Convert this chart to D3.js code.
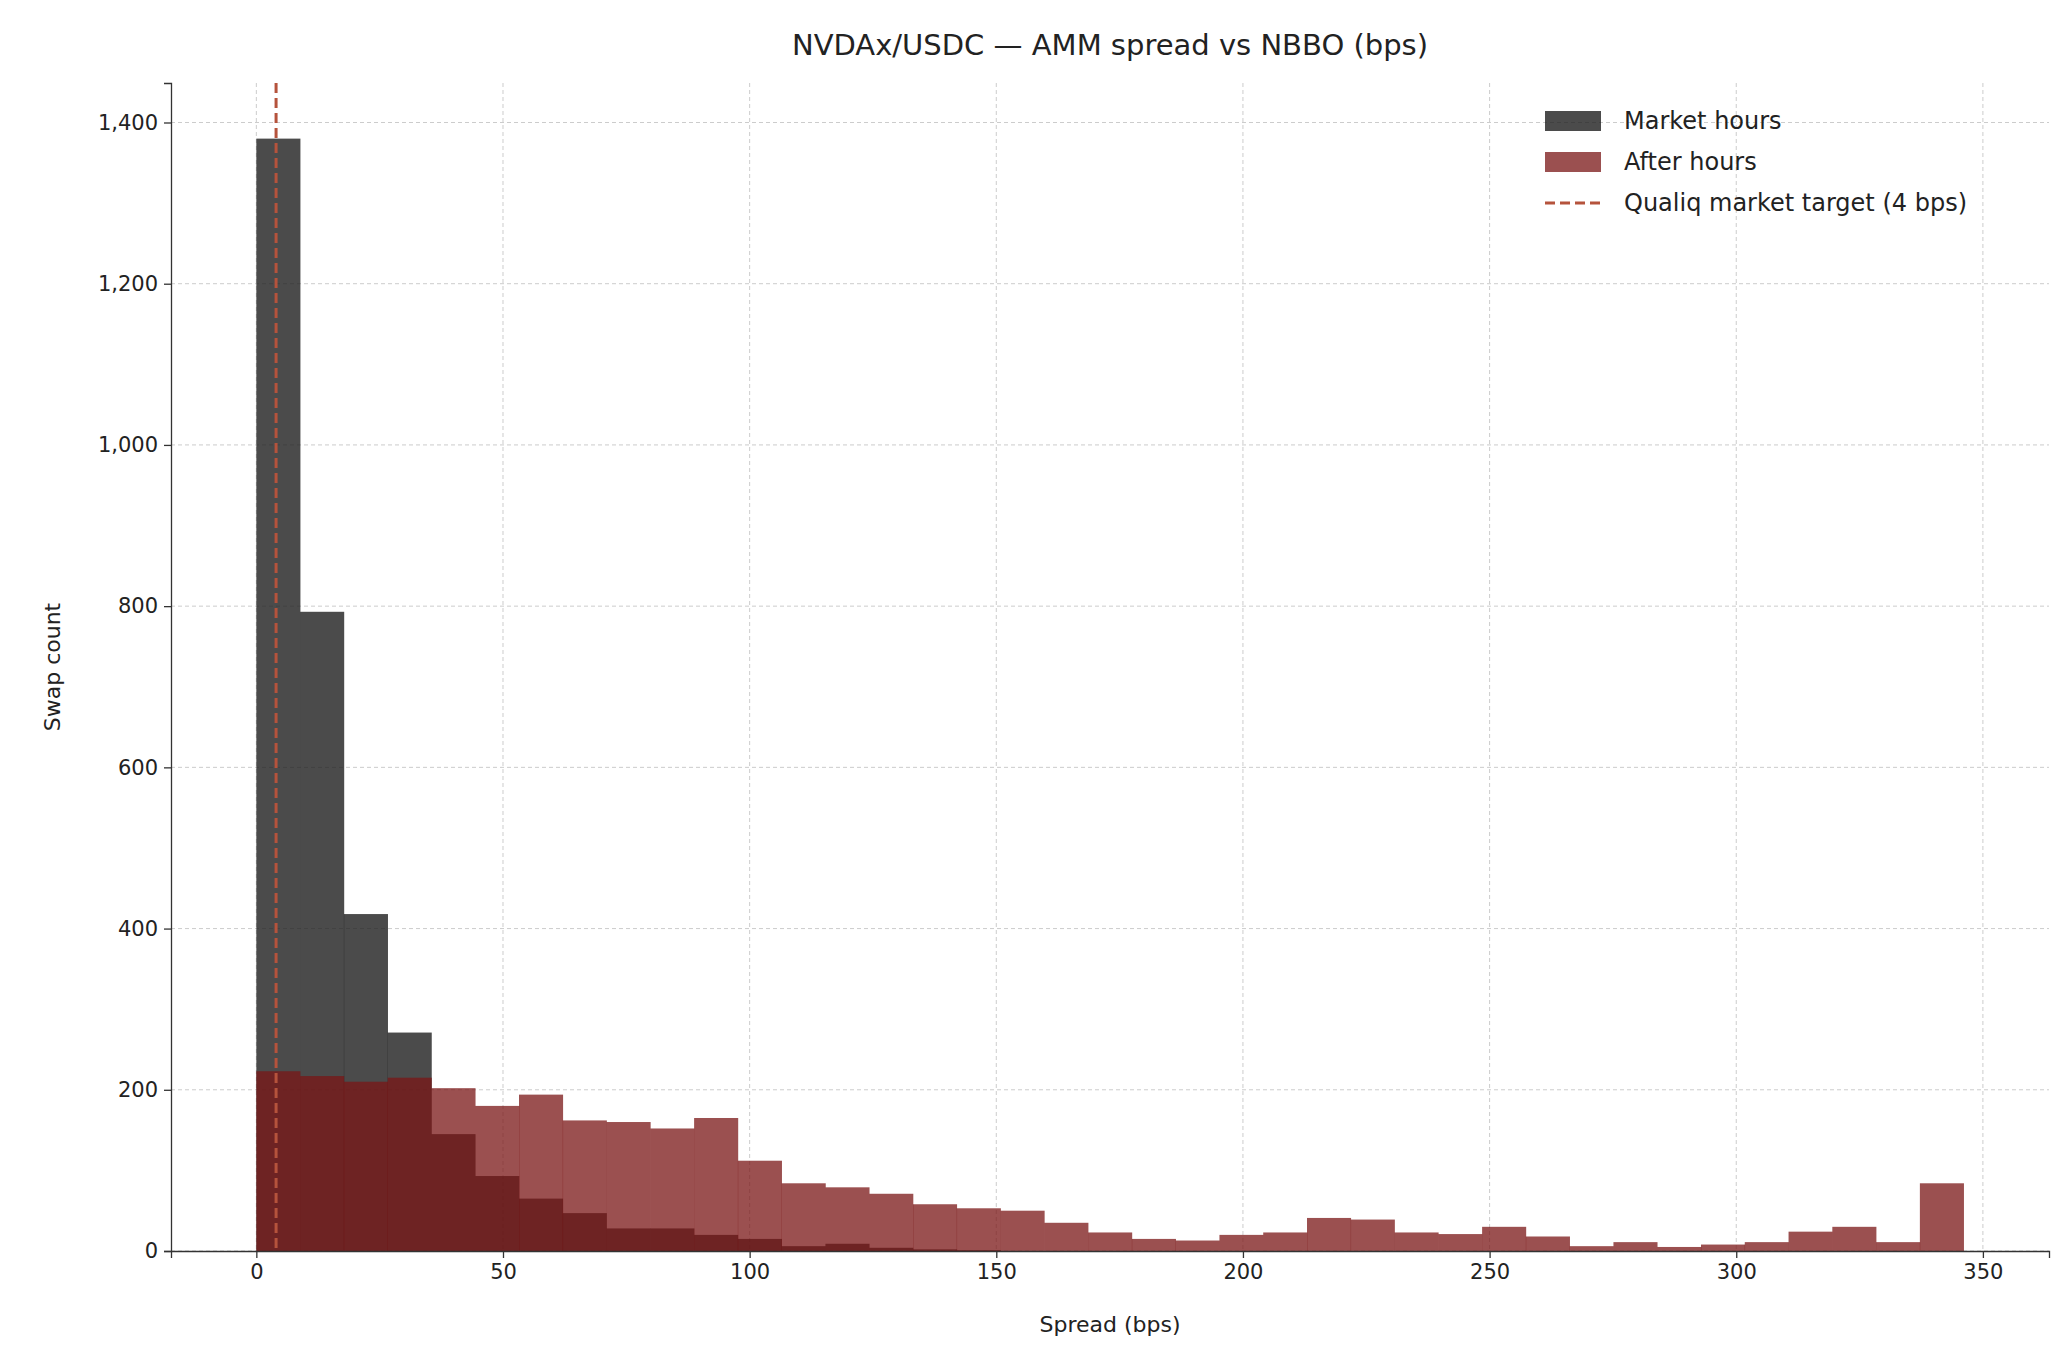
<!DOCTYPE html>
<html><head><meta charset="utf-8">
<script src="https://cdn.jsdelivr.net/npm/d3@7"></script>
<style>body{margin:0;background:#fff}svg{font-family:"DejaVu Sans",sans-serif}</style>
</head><body><svg id="c" width="2069" height="1364"></svg>
<script>
const binWidth = 346.1/39;
const marketHours = [1380,793,418,271,145,93,65,47,28,28,20,15,6,9,4,2,1,0,0,0,0,0,0,0,0,0,0,0,0,0,0,0,0,0,0,0,0,0,0];
const afterHours = [223,217,210,215,202,180,194,162,160,152,165,112,84,79,71,58,53,50,35,23,15,13,20,23,41,39,23,21,30,18,6,11,5,8,11,24,30,11,84];
const xTicks = [0,50,100,150,200,250,300,350];
const yTicks = [0,200,400,600,800,1000,1200,1400];
const target = 4;

const svg = d3.select("#c");
const L=171,R=2049,T=83,B=1251;
const x = d3.scaleLinear().domain([-17.3,363.4]).range([L,R]);
const y = d3.scaleLinear().domain([0,1449]).range([B,T]);
const g = svg.append("g");
// grid
g.selectAll(".gx").data(xTicks).join("line").attr("x1",d=>x(d)).attr("x2",d=>x(d)).attr("y1",T).attr("y2",B)
 .attr("stroke","#cccccc").attr("stroke-width",1).attr("stroke-dasharray","4,3");
g.selectAll(".gy").data(yTicks).join("line").attr("x1",L).attr("x2",R).attr("y1",d=>y(d)).attr("y2",d=>y(d))
 .attr("stroke","#cccccc").attr("stroke-width",1).attr("stroke-dasharray","4,3");
function bars(data,color,op){
  g.append("g").selectAll("rect").data(data).join("rect")
   .attr("x",(d,i)=>x(i*binWidth)).attr("width",(d,i)=>x((i+1)*binWidth)-x(i*binWidth)+0.3)
   .attr("y",d=>y(d)).attr("height",d=>y(0)-y(d)).attr("fill",color).attr("fill-opacity",op);
}
bars(marketHours,"#1e1e1e",0.8);
bars(afterHours,"#791515",0.75);
g.append("line").attr("x1",x(target)).attr("x2",x(target)).attr("y1",T).attr("y2",B)
 .attr("stroke","#b5533c").attr("stroke-width",3).attr("stroke-dasharray","10,5");
// axes
const xa = svg.append("g").attr("transform",`translate(0,${B})`).call(d3.axisBottom(x).tickValues(xTicks).tickSize(7).tickPadding(6));
const ya = svg.append("g").attr("transform",`translate(${L},0)`).call(d3.axisLeft(y).tickValues(yTicks).tickSize(7).tickPadding(6));
[xa,ya].forEach(a=>{a.selectAll("text").attr("font-size",21).attr("fill","#222").attr("font-family","DejaVu Sans");
 a.selectAll("line,path").attr("stroke","#333").attr("stroke-width",1.3);});
svg.append("text").attr("x",(L+R)/2).attr("y",55).attr("text-anchor","middle").attr("font-size",29).attr("fill","#222").text("NVDAx/USDC — AMM spread vs NBBO (bps)");
svg.append("text").attr("x",(L+R)/2).attr("y",1332).attr("text-anchor","middle").attr("font-size",22).attr("fill","#222").text("Spread (bps)");
svg.append("text").attr("transform",`translate(60,${(T+B)/2}) rotate(-90)`).attr("text-anchor","middle").attr("font-size",22).attr("fill","#222").text("Swap count");
// legend
const lg = svg.append("g").attr("font-size",24).attr("fill","#222");
const items=[["Market hours","#1e1e1e",0.8,"rect"],["After hours","#791515",0.75,"rect"],["Qualiq market target (4 bps)","#b5533c",1,"line"]];
items.forEach((it,i)=>{
  const yy=121+i*41;
  if(it[3]==="rect") lg.append("rect").attr("x",1545).attr("y",yy-10).attr("width",56).attr("height",20).attr("fill",it[1]).attr("fill-opacity",it[2]);
  else lg.append("line").attr("x1",1545).attr("x2",1601).attr("y1",yy).attr("y2",yy).attr("stroke",it[1]).attr("stroke-width",3).attr("stroke-dasharray","10,5");
  lg.append("text").attr("x",1624).attr("y",yy+8).text(it[0]);
});
</script></body></html>
